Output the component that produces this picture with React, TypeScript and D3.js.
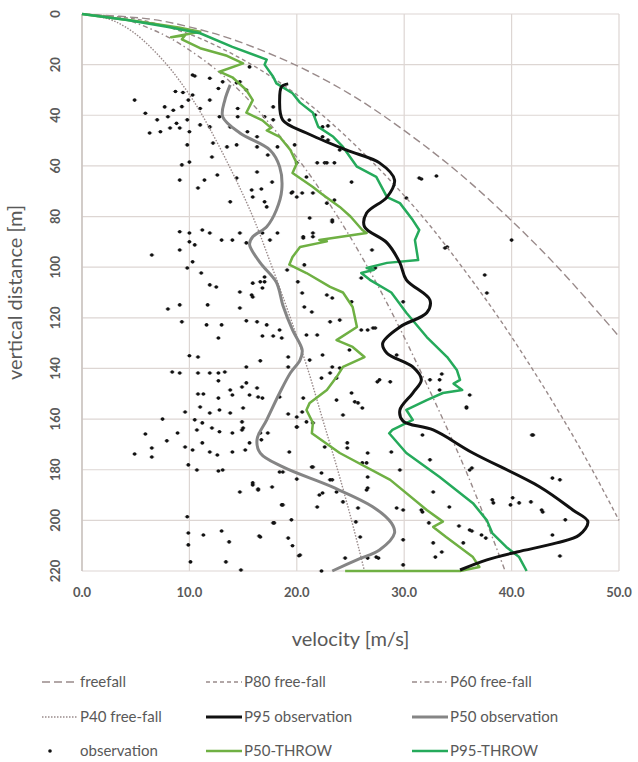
import React from 'react';
import * as d3 from 'd3';

// depth (m) / velocity (m/s)
const ffDepth = [0, 2, 5, 10, 20, 30, 40, 60, 80, 100, 120, 127.4];
const ffVel = [0, 6.3, 9.9, 14.0, 19.8, 24.3, 28.0, 34.3, 39.6, 44.3, 48.5, 50.0];

const pctDepth = [0, 2, 5, 10, 20, 30, 40, 60, 80, 100, 120, 140, 160, 180, 200, 220];
const p80Vel = [0, 5.0, 7.9, 11.2, 15.8, 19.4, 22.4, 27.4, 31.7, 35.4, 38.8, 41.9, 44.8, 47.5, 50.0];
const p60Vel = [0, 3.8, 5.9, 8.4, 11.9, 14.6, 16.8, 20.6, 23.8, 26.6, 29.1, 31.4, 33.6, 35.7, 37.6, 39.4];
const p40Vel = [0, 2.5, 4.0, 5.6, 7.9, 9.7, 11.2, 13.7, 15.9, 17.7, 19.4, 21.0, 22.4, 23.8, 25.1, 26.3];

const p95Obs = [
  [19.2, 27.6], [18.6, 28.6], [18.4, 34], [18.7, 41.9], [20.9, 47], [24.6, 53.7], [27.7, 58.8],
  [29.1, 65.6], [28.4, 72.3], [26.5, 78.6], [26.3, 84], [28.4, 90.4], [29.6, 98.3], [30.2, 105],
  [32.4, 113], [32.1, 118], [29.6, 123.6], [28, 130], [28.4, 134], [30.8, 139.4], [31.6, 144.5],
  [30.8, 149.7], [29.6, 156.4], [29.9, 160.8], [32.7, 164.3], [36.4, 173.4], [42.6, 186.7],
  [45.7, 195.9], [47.1, 200.5], [46.3, 205.8], [44.2, 208.9], [40.5, 212.5], [37.7, 215.6], [35.2, 219.6]
];

const p50Obs = [
  [13.8, 28], [13.3, 34], [13.1, 40.6], [14.7, 47], [17.5, 53.7], [18.4, 60.3], [18.6, 69.5],
  [18.1, 77.4], [17.2, 84], [15.9, 88], [15.6, 91], [16.6, 98.3], [18.1, 106], [18.7, 115],
  [19.6, 124.8], [20.5, 132.7], [20.3, 136.7], [19.4, 141.8], [18.4, 149.7], [17.2, 160.3],
  [16.3, 168], [16.6, 173.4], [18.7, 178.9], [23.3, 186.8], [27.1, 194.7], [28.8, 201],
  [29.1, 205], [27.7, 211.7], [25.6, 215.6], [23.3, 220]
];

const p50Throw = [
  [0, 0], [5, 2.8], [9, 5.3], [11, 7], [8.3, 9.2], [9.6, 8.4], [9.3, 10], [11, 13.5], [13.5, 16.5],
  [15, 19.5], [12.8, 22.8], [14, 25], [15.3, 30], [15.9, 34], [15.3, 39], [16.8, 42], [17.6, 45],
  [17.2, 46], [18.4, 48.5], [19.4, 53.7], [20, 59], [19.6, 62.8], [21.5, 68.3], [22.3, 71],
  [24, 76.2], [25, 80], [26.1, 85.3], [26.5, 86.5], [22.1, 89.3], [22.8, 89.8], [20.3, 92],
  [19.6, 96], [19.3, 99], [20.9, 102.3], [23.1, 107.8], [24.3, 110], [25.2, 115.7], [25.6, 123.6],
  [23.7, 128.8], [25.2, 131.5], [26.3, 135.5], [24.3, 139.4], [23.7, 143.4], [22.8, 148.5],
  [21.2, 153.6], [20.9, 156.4], [21.5, 161.5], [21.4, 165.6], [24, 173.4], [28.7, 184],
  [32.1, 195.9], [33.6, 200.5], [32.7, 202.6], [33.9, 206.6], [36.4, 214.5], [37, 218.4],
  [35.2, 220], [24.5, 220]
];

const p95Throw = [
  [0, 0], [4.2, 2.4], [7.9, 5], [11, 7.6], [14, 13], [17.2, 18], [17, 20], [17.8, 24.8],
  [18.1, 27.4], [19.6, 31.3], [20.3, 35], [21.5, 39], [22, 44.6], [23.4, 48.5], [24.3, 52.5],
  [25.6, 60.3], [27.4, 64.3], [28.4, 72.3], [29.6, 74.7], [30.8, 81.4], [31.4, 85.3], [31, 89.3],
  [31.3, 97.2], [28.4, 98.3], [26.5, 100.3], [27.2, 101], [26, 102.3], [26.8, 105], [28.8, 110],
  [30.2, 118], [32.1, 127.6], [34, 135.5], [34.9, 140.6], [35.2, 144.5], [34.6, 146], [35.4, 148.5],
  [33.6, 149.7], [32.1, 152.5], [30.2, 156.4], [30.8, 160.3], [28.9, 164.3], [28.6, 165.6],
  [30.2, 173.4], [33.3, 182.9], [36.4, 193.2], [37.7, 200], [38.2, 205], [39.5, 210.5],
  [40.7, 214.5], [41.4, 220]
];

const observation = [
  [15.6, 20.9], [10.5, 24.5], [11.9, 25.4], [8.7, 30.6], [9.4, 31], [10.3, 32], [12.7, 29.4],
  [14.7, 26.8], [15.3, 30], [4.9, 34], [7.7, 36.7], [8.5, 38], [9.3, 36.6], [9.9, 34], [11, 37.3],
  [11.9, 34], [14.5, 37.3], [5.9, 39.2], [7, 41.8], [8, 40.6], [8.8, 43.2], [9.8, 41.8], [11, 43.8],
  [11.9, 44.6], [6.3, 47], [7.3, 46.5], [8.2, 45], [9.1, 45], [10, 46.5], [12.8, 40.6], [13.8, 44.6],
  [14.5, 40.6], [15.4, 46.5], [16.3, 48.5], [17, 40.6], [17.8, 41.8], [9.8, 51.7], [12.2, 51],
  [13.5, 52.5], [14.4, 51.7], [16.3, 52.5], [18.2, 52.5], [12.1, 56.5], [17.3, 55.7], [9.3, 59.6],
  [10, 58.5], [16.3, 62.4], [9.1, 65.6], [12.6, 63.6], [14.4, 64.8], [10.8, 68.7], [11.4, 65.6],
  [15.8, 69.5], [16.7, 69.1], [17.7, 66.4], [13.8, 74.2], [15.9, 72.3], [17, 74.2], [19.6, 70.3],
  [20.5, 70.7], [17.2, 76.2], [21.2, 80.6], [9.1, 86], [10, 86.5], [11.2, 85.3], [11.9, 86.5],
  [13, 89.3], [14, 89.3], [14.7, 86.5], [15.3, 90.4], [16.8, 86.5], [18.2, 86.5], [17.5, 89.3],
  [10, 90], [10.5, 91.2], [6.5, 95.2], [9.1, 93.2], [20.6, 88.5], [21.5, 86.5],
  [10.3, 97.9], [9.8, 100.3], [11.1, 102.3], [11.9, 107], [12.5, 107.8], [14.7, 109.8],
  [15.8, 111], [15.9, 106.3], [17, 105.8], [16.8, 108.2], [8, 116.5], [9.1, 114.9], [11.7, 114.9],
  [14.7, 116.1], [9.3, 121.6], [11.6, 122.8], [13, 122.8], [15.3, 121.2], [16.3, 121.6],
  [17.2, 122.8], [18.4, 124.8], [16.8, 127.2], [17.8, 127.2], [18.6, 128], [12.7, 128],
  [20.9, 126.8], [21.9, 126.8], [10, 135], [10.8, 135.5], [16.6, 137], [19.2, 135.5], [21.2, 136.7],
  [8.4, 141.4], [9.1, 141.8], [10.8, 141.8], [11.9, 141.8], [12.7, 141.8], [13.3, 141.4],
  [15.3, 139.4], [19.2, 139.4], [12.7, 144.9], [13.8, 148.5], [14.9, 147.3], [15.3, 145.7],
  [16.3, 147.7], [14, 150.5], [15.6, 150.5], [16.4, 151.3], [16.8, 151.7], [10.8, 150.1],
  [11.3, 150.1], [12.7, 151.7], [18.4, 151.3], [9.6, 157.2], [11, 155.2], [11.9, 157.6],
  [12.8, 156.4], [13.8, 157.6], [15, 155.6], [7.5, 160], [10.5, 160.3], [11.2, 161.5],
  [14.9, 161.1], [10.7, 164.3], [12.1, 163.5], [12.8, 165], [14, 165.5], [14.9, 164.3],
  [5.9, 165.9], [8.9, 165.5], [17.3, 165.5], [19.2, 158], [20, 159.2], [20.5, 157.2], [20, 163.1],
  [7.9, 168.6], [9.6, 171], [10.3, 172.2], [11.2, 169.4], [11.9, 173], [12.6, 174.2], [14, 173],
  [15.2, 172.2], [15.6, 169.4], [16.6, 165.5], [4.9, 173.8], [6.5, 171.4], [6.5, 175], [9.9, 178.1],
  [10.7, 180.1], [12.7, 180.5], [13.1, 180.1], [19.3, 173], [18.4, 180.9], [20, 183.7],
  [14.7, 188.8], [15.9, 186], [16.4, 187.6], [17.7, 186.8], [18.7, 193.9], [21.5, 178.9],
  [9.8, 198.6], [9.9, 205], [11.3, 205.8], [13, 204.2], [13.7, 208.5], [9.9, 209.7], [10.1, 216.4],
  [13.4, 216.4], [14.8, 219.6], [16.5, 206.2], [17.9, 201], [18.6, 193.9], [19.5, 199.8],
  [19.2, 207], [19.6, 210], [20.2, 214], [21.9, 194.7], [22.3, 220], [24.5, 214.9], [25.5, 200.6],
  [25.7, 195.1], [25.9, 206.6], [26.6, 214.9], [27.6, 214.9], [29.3, 195.1], [29.9, 195.9],
  [29.9, 207.7], [29.9, 217.6], [31.7, 196.7], [32.3, 201], [32.7, 208.9], [33.5, 212.5],
  [32.9, 214.5], [34.2, 194.7], [35.1, 202.2], [35.5, 208.9], [36.3, 204.2], [37.2, 205.8],
  [37.6, 207], [38.3, 193.1], [39.9, 193.9], [40.7, 193.1], [41.8, 192.7], [42.9, 196.7],
  [43.8, 205.8], [44.5, 214.1], [45, 199.8],
  [15, 163.5], [16.7, 168.2], [18.7, 180.9], [15.9, 185.2], [16.4, 188], [17.8, 201], [16.6, 206.6],
  [20.3, 213.7], [20, 163.1], [21.4, 178.9], [22.3, 181.3], [23.3, 184], [22.4, 189.2],
  [23.7, 188.8], [24.3, 192.7], [24.7, 169.4], [26.6, 173.4], [26.5, 177.3], [26.6, 182.9],
  [26.6, 187.2], [27.4, 214.5], [28.8, 173], [29.6, 180.1], [31.6, 195.9], [32.7, 188.8],
  [32.4, 176.1], [31.7, 166.3], [36.1, 203.8], [36.1, 180.1], [38.2, 191.9], [41.9, 166.3],
  [43.8, 183.3], [44.5, 184], [42.8, 195.9],
  [21.7, 39.9], [22.9, 44.2], [23.5, 58.8], [22.6, 58.8], [24, 53.7], [22.4, 48.5], [25.1, 66.4],
  [21.5, 70.7], [23.5, 73.5], [22.8, 74.7], [23.3, 82.1], [21.5, 88], [27, 93.2], [31.6, 65.2],
  [33, 64], [30.2, 72.7], [33.8, 92.4], [40, 89.3],
  [20.7, 99.1], [20.5, 110.2], [22.8, 111], [23.3, 112.2], [20.7, 115.7], [21.4, 117.7],
  [25.1, 113.7], [26, 104.3], [27.3, 100.3], [29.9, 113.7], [37.5, 103.1], [37.7, 110.2],
  [23.1, 121.6], [24, 120.9], [26, 124.8], [26.6, 124.8], [27.3, 124], [22.4, 134.7], [24.9, 132.7],
  [29.3, 134.7], [23.3, 139.4], [24, 139.8], [22.3, 143.8], [23.1, 141.8], [23.7, 143.8],
  [27.5, 145.3], [28.7, 145.3], [32.4, 144.5], [33.3, 148.5], [33.5, 142.2], [36.1, 150.5],
  [35.8, 155.6], [25.1, 149.7], [25.4, 153.2], [25.7, 153.6], [24.3, 158.4], [26.1, 155.6],
  [23.7, 152.5], [20.6, 151.7], [21.5, 161.5], [20.9, 161.1], [42, 166.3], [22.6, 171], [24.7, 171.4],
  [26.1, 177.3], [36.3, 179.3], [23.1, 184], [26.5, 188], [40.1, 191.1], [22.1, 190],
  [17.8, 36.7], [19.3, 41.9], [19.8, 51.7], [20, 58.8], [21.9, 58.8], [22.8, 58.8], [20.9, 64.4],
  [19.5, 70.7], [20, 72.3], [23.3, 81.4], [20.6, 88], [22.9, 49.8], [22.4, 44.6], [17, 103.9],
  [16.6, 105.8], [15.9, 111.8], [19.1, 101.1], [20.1, 105.8], [34, 92], [31.4, 64.8],
  [27.1, 124], [27.7, 144.5], [33.3, 144.5], [35.8, 155.2], [10.3, 24.1], [13.1, 26.8], [14.4, 27.2]
];

const xTicks = [0, 10, 20, 30, 40, 50];
const yTicks = [0, 20, 40, 60, 80, 100, 120, 140, 160, 180, 200, 220];

const FONT = 'Lato, "Open Sans", sans-serif';
const TXT = '#595959';
const FF_COLOR = '#998a8a';

const legendItems = [
  { label: 'freefall', kind: 'line', color: FF_COLOR, dash: '8,4', w: 1.3 },
  { label: 'P80 free-fall', kind: 'line', color: FF_COLOR, dash: '4,3', w: 1.3 },
  { label: 'P60 free-fall', kind: 'line', color: FF_COLOR, dash: '5,3,1.5,3', w: 1.3 },
  { label: 'P40 free-fall', kind: 'line', color: FF_COLOR, dash: '1.5,1.5', w: 1.3 },
  { label: 'P95 observation', kind: 'line', color: '#111111', dash: null, w: 3 },
  { label: 'P50 observation', kind: 'line', color: '#858585', dash: null, w: 3 },
  { label: 'observation', kind: 'dot', color: '#111111', dash: null, w: 0 },
  { label: 'P50-THROW', kind: 'line', color: '#6fb043', dash: null, w: 2.5 },
  { label: 'P95-THROW', kind: 'line', color: '#25aa5b', dash: null, w: 2.5 }
];

export default function App() {
  const x = d3.scaleLinear().domain([0, 50]).range([82, 619]);
  const y = d3.scaleLinear().domain([0, 220]).range([14, 571]);

  const smooth = d3.line<number[]>().x(d => x(d[0])).y(d => y(d[1])).curve(d3.curveCatmullRom.alpha(0.5));
  const jag = d3.line<number[]>().x(d => x(d[0])).y(d => y(d[1]));

  const zip = (vs: number[], ds: number[]) => vs.map((v, i) => [v, ds[i]]);

  const ffLines = [
    { pts: zip(ffVel, ffDepth), dash: '8,4' },
    { pts: zip(p80Vel, pctDepth), dash: '4,3' },
    { pts: zip(p60Vel, pctDepth), dash: '5,3,1.5,3' },
    { pts: zip(p40Vel, pctDepth), dash: '1.5,1.5' }
  ];

  const colX = [42, 206, 412];
  const rowY = [682, 717, 751];

  return (
    <svg width={638} height={762} style={{ position: 'absolute', left: 0, top: 0, display: 'block', fontFamily: FONT }}>
      <rect width={638} height={762} fill="#fff" />
      {xTicks.map(t => (
        <line key={'gx' + t} x1={x(t)} x2={x(t)} y1={y(0)} y2={y(220)} stroke="#ddd6d3" strokeWidth={1.2} />
      ))}
      {yTicks.map(t => (
        <line key={'gy' + t} x1={x(0)} x2={x(50)} y1={y(t)} y2={y(t)} stroke="#ddd6d3" strokeWidth={1.2} />
      ))}
      <line x1={x(0)} x2={x(0)} y1={y(0)} y2={y(220)} stroke="#c8c0bd" strokeWidth={1.4} />

      {observation.map((d, i) => (
        <g key={'o' + i}>
          <line x1={x(d[0]) - 2.6} x2={x(d[0]) + 2.6} y1={y(d[1])} y2={y(d[1])} stroke="#555" strokeWidth={0.6} />
          <circle cx={x(d[0])} cy={y(d[1])} r={1.8} fill="#111" />
        </g>
      ))}

      {ffLines.map((l, i) => (
        <path key={'ff' + i} d={smooth(l.pts) || ''} fill="none" stroke={FF_COLOR} strokeWidth={1.4} strokeDasharray={l.dash} />
      ))}

      <path d={jag(p50Throw) || ''} fill="none" stroke="#6fb043" strokeWidth={2.5} strokeLinejoin="round" />
      <path d={jag(p95Throw) || ''} fill="none" stroke="#25aa5b" strokeWidth={2.5} strokeLinejoin="round" />
      <path d={smooth(p50Obs) || ''} fill="none" stroke="#858585" strokeWidth={3} />
      <path d={smooth(p95Obs) || ''} fill="none" stroke="#111111" strokeWidth={3} />

      {xTicks.map(t => (
        <text key={'tx' + t} x={x(t)} y={597} textAnchor="middle" fontSize={13} fontWeight="bold" fill={TXT}>
          {t.toFixed(1)}
        </text>
      ))}
      {yTicks.map(t => (
        <text key={'ty' + t} transform={`translate(60,${y(t)}) rotate(-90)`} textAnchor="middle" fontSize={13} fontWeight="bold" fill={TXT}>
          {t}
        </text>
      ))}
      <text transform={`translate(22,${(y(0) + y(220)) / 2}) rotate(-90)`} textAnchor="middle" fontSize={20} fill={TXT}>
        vertical distance [m]
      </text>
      <text x={(x(0) + x(50)) / 2} y={646} textAnchor="middle" fontSize={20} fill={TXT}>
        velocity [m/s]
      </text>

      {legendItems.map((it, i) => {
        const cx = colX[i % 3];
        const cy = rowY[Math.floor(i / 3)];
        return (
          <g key={'lg' + i}>
            {it.kind === 'line' ? (
              <line x1={cx} x2={cx + 36} y1={cy} y2={cy} stroke={it.color} strokeWidth={it.w} strokeDasharray={it.dash || undefined} />
            ) : (
              <circle cx={cx + 8} cy={cy} r={1.8} fill={it.color} />
            )}
            <text x={cx + 38} y={cy + 5} fontSize={15} fill={TXT}>
              {it.label}
            </text>
          </g>
        );
      })}
    </svg>
  );
}
